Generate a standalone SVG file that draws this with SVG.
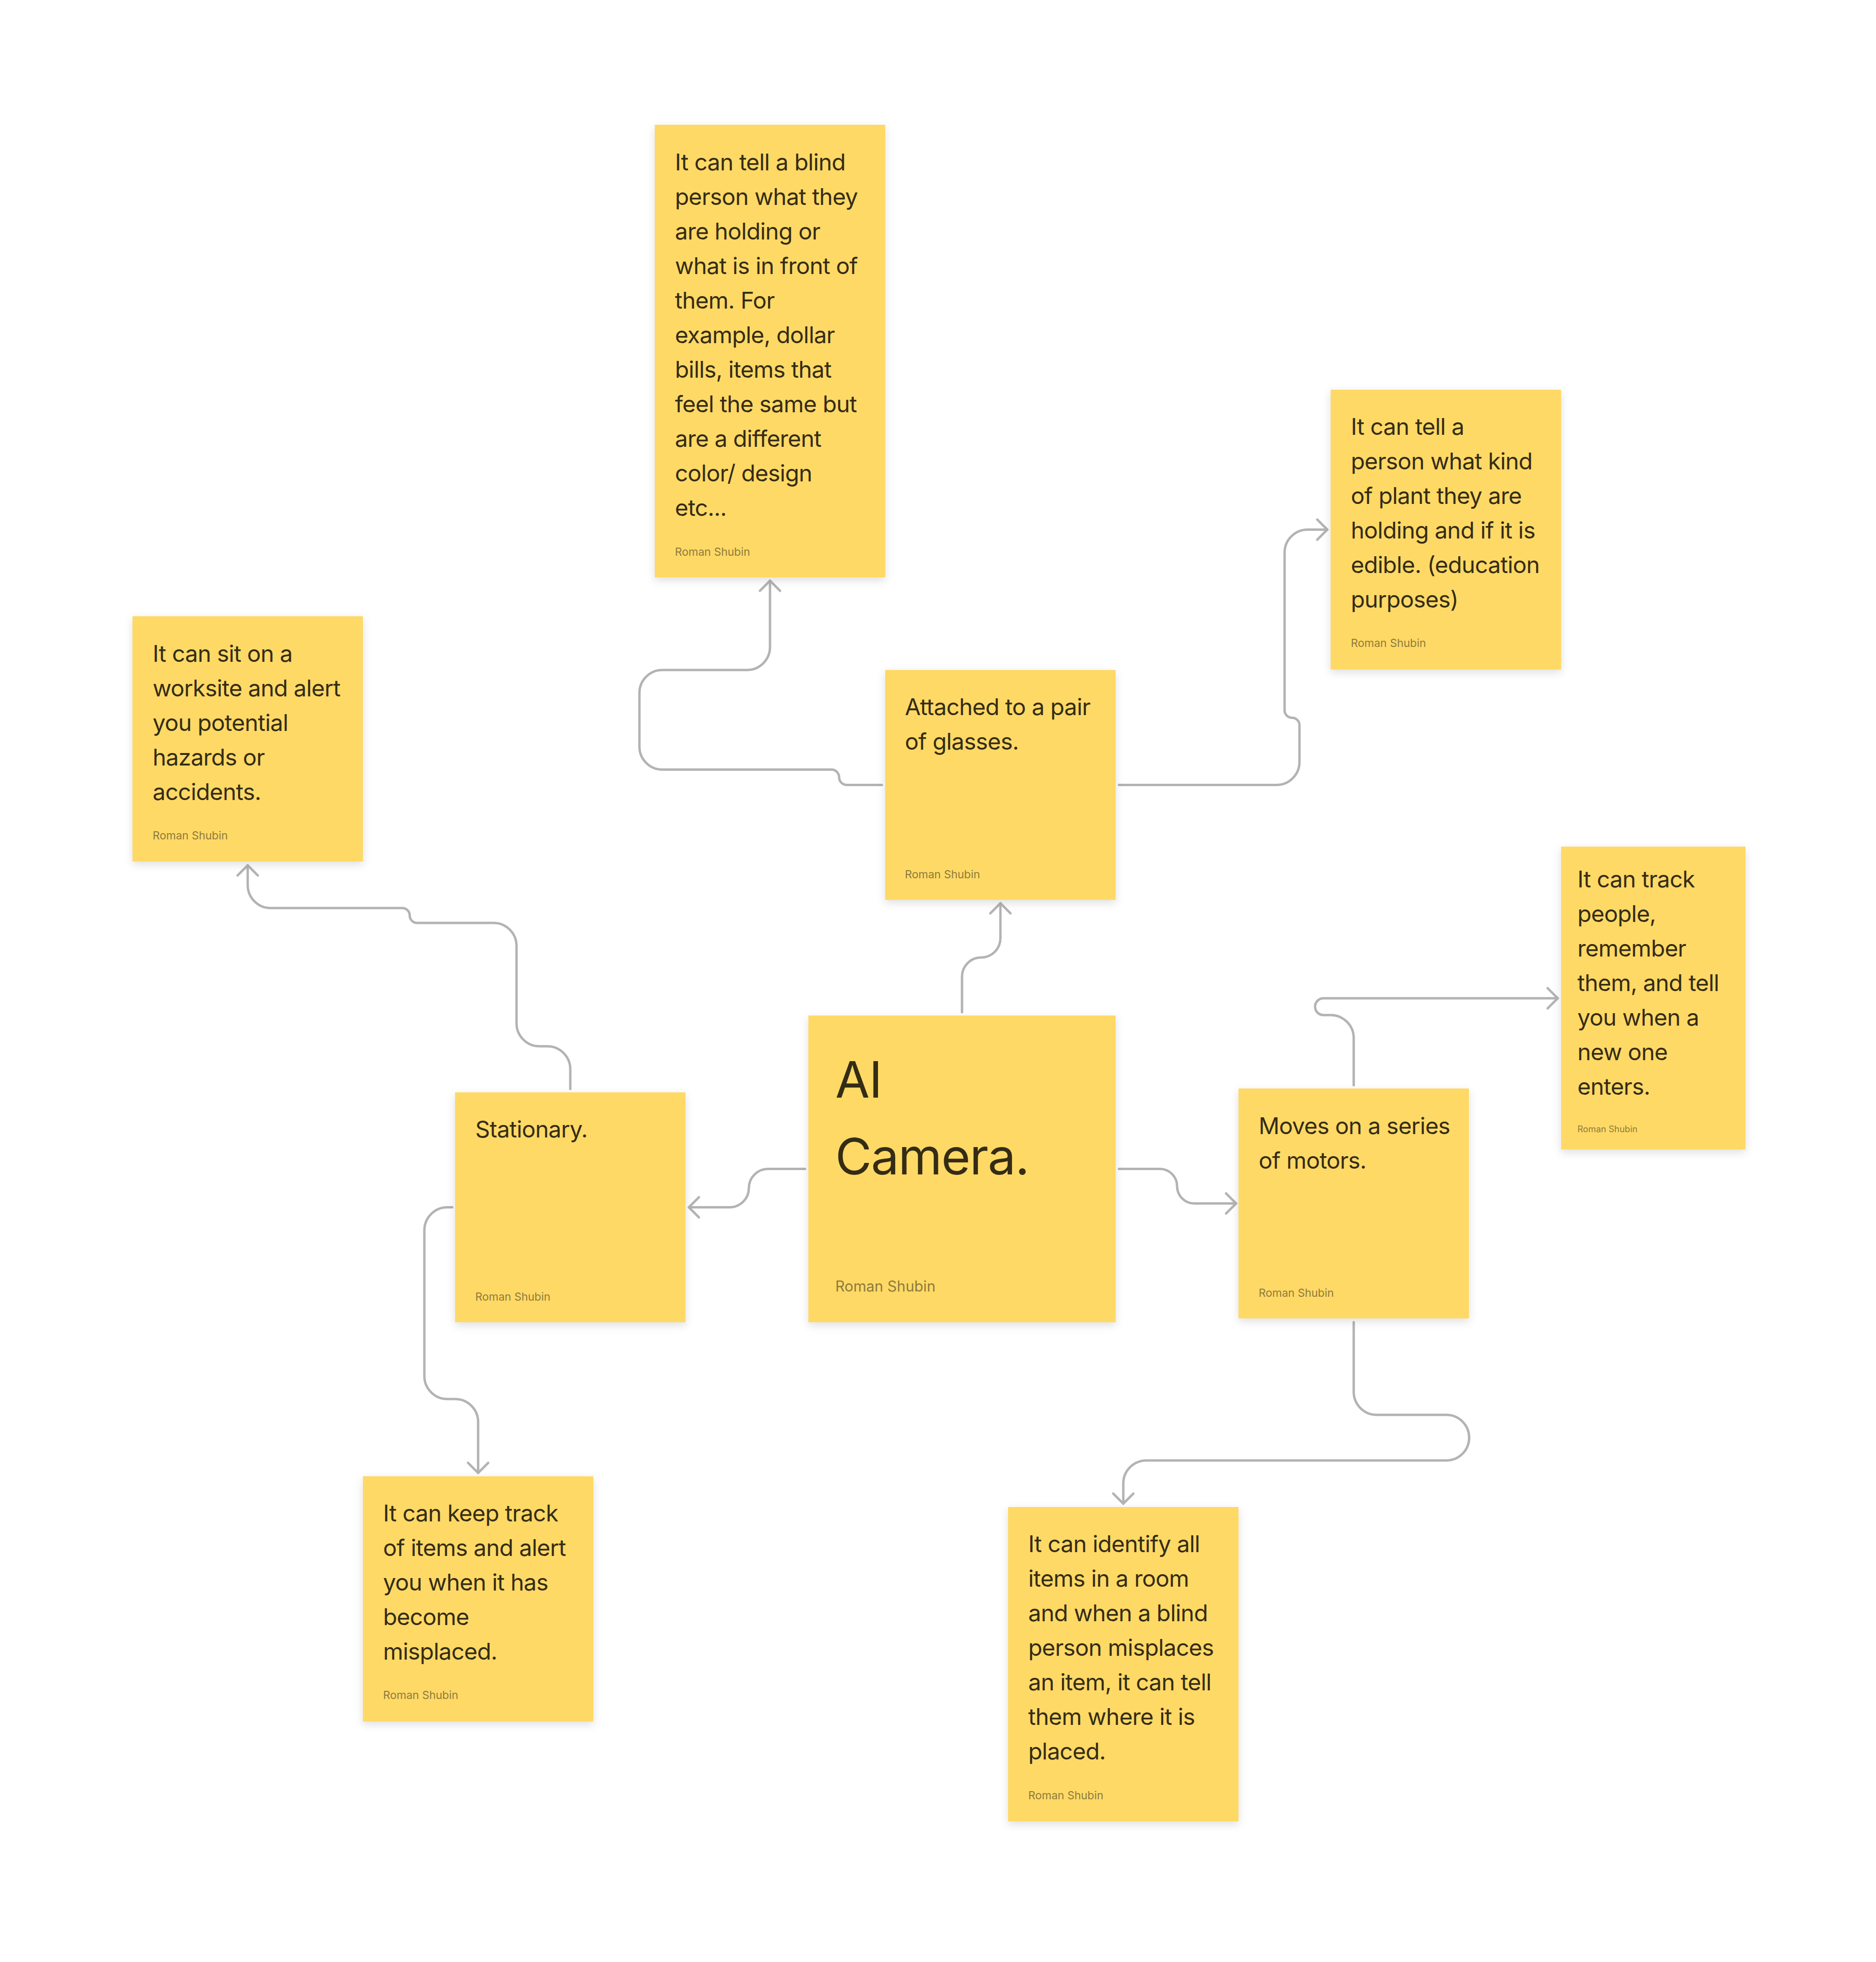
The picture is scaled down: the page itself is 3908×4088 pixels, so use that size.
<svg xmlns="http://www.w3.org/2000/svg" width="3908" height="4088" viewBox="0 0 3908 4088">
<style>
.note{fill:#FFD966;filter:url(#sh)}
.t{font-family:Inter,"Liberation Sans",sans-serif;font-size:48px;fill:#342C14;letter-spacing:-0.8px}
.big{font-size:104px;letter-spacing:-1.5px}
.au{font-family:Inter,"Liberation Sans",sans-serif;font-size:23px;fill:#8D7B3D}
.conn{fill:none;stroke:#B3B3B3;stroke-width:5;stroke-linecap:round;stroke-linejoin:round;marker-end:url(#arr)}
</style>
<defs>
<filter id="sh" x="-20%" y="-20%" width="140%" height="140%">
<feDropShadow dx="0" dy="6" stdDeviation="9" flood-color="#000" flood-opacity="0.13"/>
</filter>
<marker id="arr" markerUnits="userSpaceOnUse" viewBox="-30 -30 40 60" refX="0" refY="0" markerWidth="40" markerHeight="60" orient="auto">
<path d="M-21,-21 L0,0 L-21,21" fill="none" stroke="#B3B3B3" stroke-width="5" stroke-linecap="round" stroke-linejoin="round"/>
</marker>
</defs>
<rect width="3908" height="4088" fill="#FFFFFF"/>
<g id="connectors">
<path class="conn" d="M2004,2109 V2035 A40,40 0 0 1 2044,1995 A40,40 0 0 0 2084,1955 V1882"/>
<path class="conn" d="M1837,1635.5 H1764 A16,16 0 0 1 1748,1619.5 A16,16 0 0 0 1732,1603.5 H1380 A48,48 0 0 1 1332,1555.5 V1444 A48,48 0 0 1 1380,1396 H1556 A48,48 0 0 0 1604,1348 V1210"/>
<path class="conn" d="M2331,1635.5 H2659 A48,48 0 0 0 2707,1587.5 V1511 A15.5,15.5 0 0 0 2691.5,1495.5 A15.5,15.5 0 0 1 2676,1480 V1151.5 A48,48 0 0 1 2724,1103.5 H2765"/>
<path class="conn" d="M1188,2269 V2228 A48,48 0 0 0 1140,2180 H1124 A48,48 0 0 1 1076,2132 V1971 A48,48 0 0 0 1028,1923 H869 A15.5,15.5 0 0 1 853.5,1907.5 A15.5,15.5 0 0 0 838,1892 H564 A48,48 0 0 1 516,1844 V1803"/>
<path class="conn" d="M1677,2435.5 H1600 A40,40 0 0 0 1560,2475.5 A40,40 0 0 1 1520,2515.5 H1435"/>
<path class="conn" d="M2331,2435.5 H2416 A36,36 0 0 1 2452,2471.5 A36,36 0 0 0 2488,2507.5 H2575"/>
<path class="conn" d="M942,2515.5 H932 A48,48 0 0 0 884,2563.5 V2867 A48,48 0 0 0 932,2915 H948 A48,48 0 0 1 996,2963 V3069"/>
<path class="conn" d="M2820,2261 V2163 A48,48 0 0 0 2772,2115 H2757 A17.5,17.5 0 0 1 2757,2080 H3245"/>
<path class="conn" d="M2820,2755 V2900 A48,48 0 0 0 2868,2948 H3013 A47.5,47.5 0 0 1 3013,3043 H2388 A48,48 0 0 0 2340,3091 V3133"/>
</g>
<g id="node-blind-holding">
<rect class="note" x="1364" y="260" width="480" height="943"/>
<text class="t" x="1406" y="355">It can tell a blind</text>
<text class="t" x="1406" y="427">person what they</text>
<text class="t" x="1406" y="499">are holding or</text>
<text class="t" x="1406" y="571">what is in front of</text>
<text class="t" x="1406" y="643">them. For</text>
<text class="t" x="1406" y="715">example, dollar</text>
<text class="t" x="1406" y="787">bills, items that</text>
<text class="t" x="1406" y="859">feel the same but</text>
<text class="t" x="1406" y="931">are a different</text>
<text class="t" x="1406" y="1003">color/ design</text>
<text class="t" x="1406" y="1075">etc...</text>
<text class="au" x="1406" y="1158">Roman Shubin</text>
</g>
<g id="node-plant">
<rect class="note" x="2772" y="812" width="480" height="583"/>
<text class="t" x="2814" y="906">It can tell a</text>
<text class="t" x="2814" y="978">person what kind</text>
<text class="t" x="2814" y="1050">of plant they are</text>
<text class="t" x="2814" y="1122">holding and if it is</text>
<text class="t" x="2814" y="1194">edible. (education</text>
<text class="t" x="2814" y="1266">purposes)</text>
<text class="au" x="2814" y="1348">Roman Shubin</text>
</g>
<g id="node-glasses">
<rect class="note" x="1844" y="1396" width="480" height="479"/>
<text class="t" x="1885" y="1490">Attached to a pair</text>
<text class="t" x="1885" y="1562">of glasses.</text>
<text class="au" x="1885" y="1830">Roman Shubin</text>
</g>
<g id="node-worksite">
<rect class="note" x="276" y="1284" width="480" height="511"/>
<text class="t" x="318" y="1379">It can sit on a</text>
<text class="t" x="318" y="1451">worksite and alert</text>
<text class="t" x="318" y="1523">you potential</text>
<text class="t" x="318" y="1595">hazards or</text>
<text class="t" x="318" y="1667">accidents.</text>
<text class="au" x="318" y="1749">Roman Shubin</text>
</g>
<g id="node-track-people">
<rect class="note" x="3252" y="1764" width="384" height="631"/>
<text class="t" x="3286" y="1849">It can track</text>
<text class="t" x="3286" y="1921">people,</text>
<text class="t" x="3286" y="1993">remember</text>
<text class="t" x="3286" y="2065">them, and tell</text>
<text class="t" x="3286" y="2137">you when a</text>
<text class="t" x="3286" y="2209">new one</text>
<text class="t" x="3286" y="2281">enters.</text>
<text class="au" x="3286" y="2359" style="font-size:18.4px">Roman Shubin</text>
</g>
<g id="node-ai-camera">
<rect class="note" x="1684" y="2116" width="640" height="639"/>
<text class="t big" x="1740" y="2287">AI</text>
<text class="t big" x="1740" y="2447">Camera.</text>
<text class="au" x="1740" y="2691" style="font-size:30.7px">Roman Shubin</text>
</g>
<g id="node-stationary">
<rect class="note" x="948" y="2276" width="480" height="479"/>
<text class="t" x="990" y="2370">Stationary.</text>
<text class="au" x="990" y="2710">Roman Shubin</text>
</g>
<g id="node-motors">
<rect class="note" x="2580" y="2268" width="480" height="479"/>
<text class="t" x="2622" y="2363">Moves on a series</text>
<text class="t" x="2622" y="2435">of motors.</text>
<text class="au" x="2622" y="2702">Roman Shubin</text>
</g>
<g id="node-keep-track">
<rect class="note" x="756" y="3076" width="480" height="511"/>
<text class="t" x="798" y="3170">It can keep track</text>
<text class="t" x="798" y="3242">of items and alert</text>
<text class="t" x="798" y="3314">you when it has</text>
<text class="t" x="798" y="3386">become</text>
<text class="t" x="798" y="3458">misplaced.</text>
<text class="au" x="798" y="3540">Roman Shubin</text>
</g>
<g id="node-identify">
<rect class="note" x="2100" y="3140" width="480" height="655"/>
<text class="t" x="2142" y="3234">It can identify all</text>
<text class="t" x="2142" y="3306">items in a room</text>
<text class="t" x="2142" y="3378">and when a blind</text>
<text class="t" x="2142" y="3450">person misplaces</text>
<text class="t" x="2142" y="3522">an item, it can tell</text>
<text class="t" x="2142" y="3594">them where it is</text>
<text class="t" x="2142" y="3666">placed.</text>
<text class="au" x="2142" y="3749">Roman Shubin</text>
</g>
</svg>
